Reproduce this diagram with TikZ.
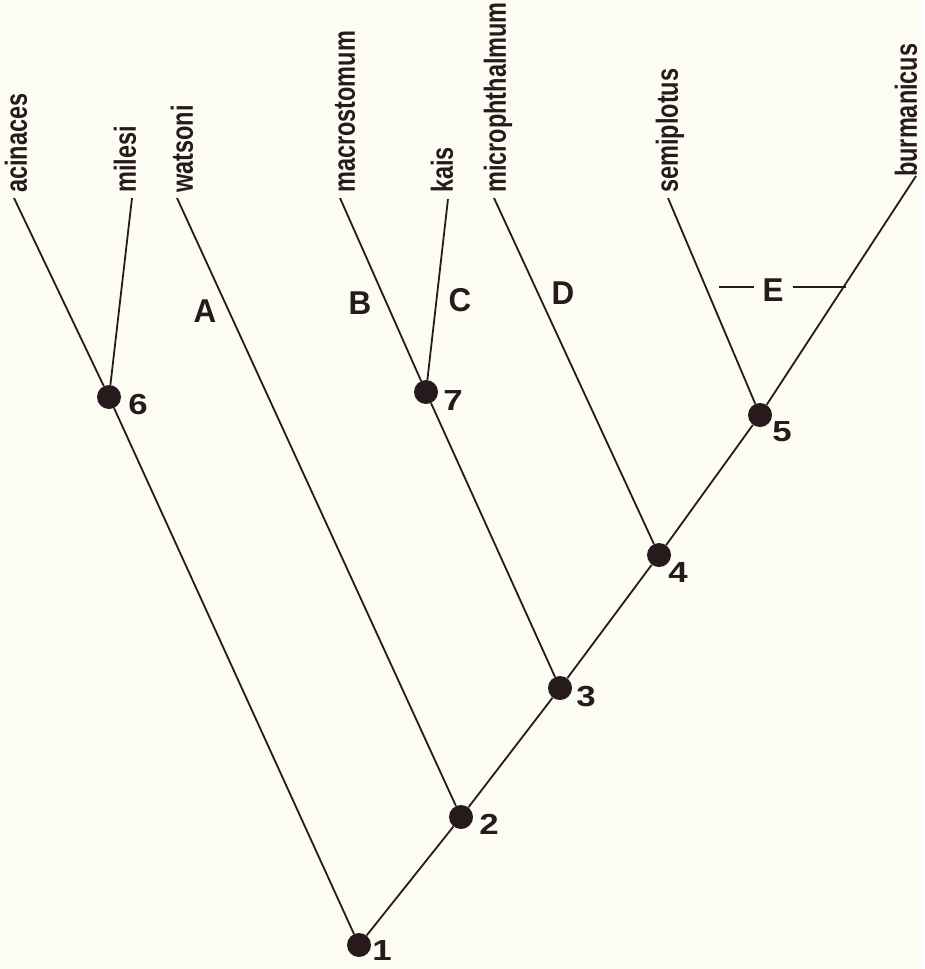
\documentclass[tikz,border=0pt]{standalone}
\usepackage{fontspec}
\setmainfont{Liberation Sans}
\usepackage{graphicx}
\definecolor{bgc}{RGB}{252,252,242}
\definecolor{ink}{RGB}{38,26,28}
\newcommand{\sptxt}[1]{\scalebox{1}[1.3]{#1}}
\newcommand{\numtxt}[1]{\scalebox{1.2}[1]{#1}}
\newcommand{\lettxt}[1]{\scalebox{0.95}[1]{#1}}
\tikzset{
  branch/.style={draw=ink, line width=1.8pt},
  dotnode/.style={circle, fill=ink, minimum size=24pt, inner sep=0pt},
  splabel/.style={rotate=90, anchor=west, inner sep=1pt, text=ink,
    font=\fontsize{23.5}{23.5}\selectfont\bfseries},
  numlabel/.style={inner sep=0pt, text=ink, font=\fontsize{29}{29}\selectfont\bfseries},
  letlabel/.style={inner sep=0pt, text=ink, font=\fontsize{33}{33}\selectfont\bfseries}
}
\begin{document}
\begin{tikzpicture}[x=1pt,y=-1pt]
\fill[bgc] (0,0) rectangle (924,969);
\useasboundingbox (0,0) rectangle (924,969);
% tips
\coordinate (tacin) at (14,198);
\coordinate (tmil) at (132,198);
\coordinate (twat) at (177,198);
\coordinate (tmac) at (340,198);
\coordinate (tkais) at (448,199);
\coordinate (tmic) at (494,198);
\coordinate (tsemi) at (668,198);
\coordinate (tburm) at (916,176);
% species labels
\node[splabel] (lacin) at (16,194) {\sptxt{acinaces}};
\node[splabel] (lmil) at (125,194) {\sptxt{milesi}};
\node[splabel] (lwat) at (182,194) {\sptxt{watsoni}};
\node[splabel] (lmac) at (345,194) {\sptxt{macrostomum}};
\node[splabel] (lkais) at (442,194) {\sptxt{kais}};
\node[splabel] (lmic) at (498,194) {\sptxt{microphthalmum}};
\node[splabel] (lsemi) at (670,194) {\sptxt{semiplotus}};
\node[splabel] (lburm) at (906,178) {\sptxt{burmanicus}};
% internal nodes
\node[dotnode] (n1) at (359,945) {};
\node[dotnode] (n2) at (461,817) {};
\node[dotnode] (n3) at (560,688) {};
\node[dotnode] (n4) at (659,555) {};
\node[dotnode] (n5) at (760,415) {};
\node[dotnode] (n6) at (109,397) {};
\node[dotnode] (n7) at (426,392) {};
% branches
\draw[branch] (n1) -- (n2);
\draw[branch] (n2) -- (n3);
\draw[branch] (n3) -- (n4);
\draw[branch] (n4) -- (n5);
\draw[branch] (n5) -- (tburm);
\draw[branch] (n5) -- (tsemi);
\draw[branch] (n4) -- (tmic);
\draw[branch] (n3) -- (n7);
\draw[branch] (n7) -- (tmac);
\draw[branch] (n7) -- (tkais);
\draw[branch] (n2) -- (twat);
\draw[branch] (n1) -- (n6);
\draw[branch] (n6) -- (tacin);
\draw[branch] (n6) -- (tmil);
% node numbers
\node[numlabel] (d1) at (382,951) {\numtxt{1}};
\node[numlabel] (d2) at (489,824) {\numtxt{2}};
\node[numlabel] (d3) at (586,697) {\numtxt{3}};
\node[numlabel] (d4) at (678,573) {\numtxt{4}};
\node[numlabel] (d5) at (782,432) {\numtxt{5}};
\node[numlabel] (d6) at (138,405) {\numtxt{6}};
\node[numlabel] (d7) at (453,401) {\numtxt{7}};
% character labels
\node[letlabel] (lA) at (205,311) {\lettxt{A}};
\node[letlabel] (lB) at (360,303) {\lettxt{B}};
\node[letlabel] (lC) at (460,300) {\lettxt{C}};
\node[letlabel] (lD) at (563,293) {\lettxt{D}};
\node[letlabel] (lE) at (773,290) {\lettxt{E}};
\draw[draw=ink, line width=1.3pt] ([xshift=-8pt,yshift=3pt]lE.west) -- ++(-35,0);
\draw[draw=ink, line width=1.3pt] ([xshift=9pt,yshift=3pt]lE.east) -- ++(53,0);
\end{tikzpicture}
\end{document}
